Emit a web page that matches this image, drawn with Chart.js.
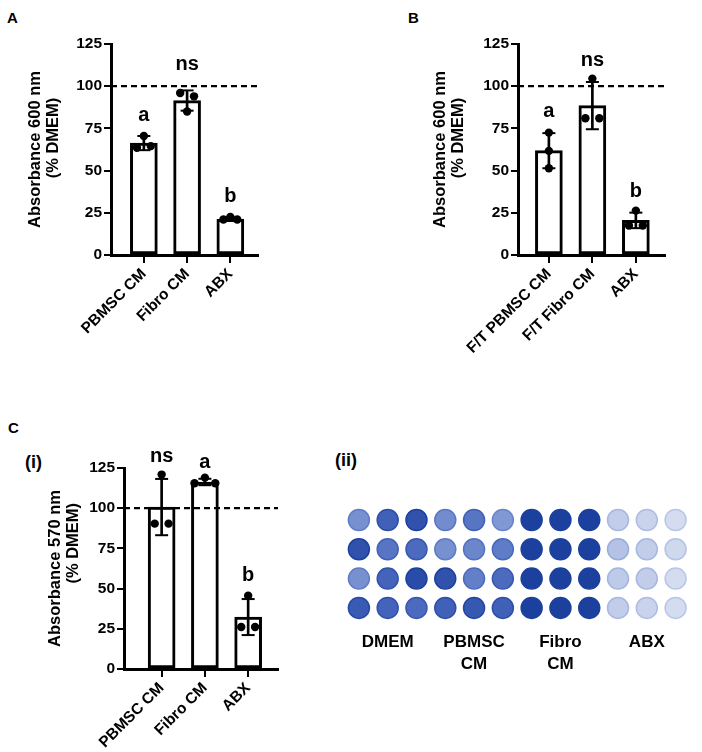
<!DOCTYPE html>
<html>
<head>
<meta charset="utf-8">
<script src="https://cdn.jsdelivr.net/npm/chart.js@4.4.0/dist/chart.umd.min.js"></script>
<style>
body { margin:0; background:#fff; width:702px; height:752px; position:relative; overflow:hidden; font-family:"Liberation Sans", Arial, sans-serif; }
canvas { position:absolute; }
.tag { position:absolute; font-weight:bold; color:#000; line-height:1; }
</style>
</head>
<body>
<div class="tag" style="left:7px;top:10px;font-size:15px">A</div>
<div class="tag" style="left:408px;top:10px;font-size:15px">B</div>
<div class="tag" style="left:8px;top:420px;font-size:15px">C</div>
<div class="tag" style="left:25px;top:453px;font-size:18px">(i)</div>
<div class="tag" style="left:335px;top:451px;font-size:18px">(ii)</div>

<canvas id="chartA" width="300" height="360" style="left:0;top:0"></canvas>
<canvas id="chartB" width="302" height="360" style="left:400px;top:0"></canvas>
<canvas id="chartC" width="300" height="372" style="left:0;top:380px"></canvas>
<canvas id="plate" width="372" height="200" style="left:330px;top:490px"></canvas>

<script>
var FONT = '"Liberation Sans", Arial, sans-serif'

// A - absorbance 600 nm
var catsA = ['PBMSC CM', 'Fibro CM', 'ABX']
var meanA = [66.3, 91.5, 21.2]
var sdA = [4.2, 6, 1]
var dotsA = [[63.5, 70.5, 64.5], [96, 85, 94], [21, 22.5, 21]]
var lettersA = ['a', 'ns', 'b']
var letterYA = [79.4, 109.5, 31.5]

// B - freeze/thaw, absorbance 600 nm
var catsB = ['F/T PBMSC CM', 'F/T Fibro CM', 'ABX']
var meanB = [61.8, 88.5, 20.5]
var sdB = [10.4, 14, 4.6]
var dotsB = [[51.4, 72.5, 61.7], [81, 104.5, 81], [17.5, 26.3, 17.5]]
var lettersB = ['a', 'ns', 'b']
var letterYB = [82, 112, 34.5]

// C(i) - absorbance 570 nm
var catsC = ['PBMSC CM', 'Fibro CM', 'ABX']
var meanC = [100.7, 116.3, 32.3]
var sdC = [17.5, 2, 11.2]
var dotsC = [[90.4, 120.9, 90.4], [115.5, 119, 115.5], [26.1, 45.6, 26.1]]
var lettersC = ['ns', 'a', 'b']
var letterYC = [128.9, 124.8, 55]

// C(ii) - stain intensity per well (0 = clear, 1 = darkest), 4 rows x 12 wells
var wellGroups = [['DMEM'], ['PBMSC', 'CM'], ['Fibro', 'CM'], ['ABX']]
var stain = [
  [0.50, 0.78, 0.88, 0.52, 0.66, 0.45, 1, 1, 1, 0.16, 0.13, 0.08],
  [0.88, 0.66, 0.72, 0.50, 0.56, 0.62, 1, 1, 1, 0.22, 0.16, 0.10],
  [0.50, 0.76, 0.92, 0.88, 0.60, 0.72, 1, 1, 1, 0.18, 0.16, 0.08],
  [0.82, 0.76, 0.72, 0.78, 0.84, 0.78, 1, 1, 1, 0.16, 0.13, 0.08]
]

// horizontal placement of the replicate dots (in bar widths), layout only
var dotSpreadA = [[-1, 0, 1], [-1, 0, 1], [-1, 0, 1]]
var dotSpreadB = [[0, 0, 0], [-1, 0, 1], [-1, 0, 1]]
var dotSpreadC = [[-1, 0, 1], [-1.5, 0, 1.5], [-1, 0, 1]]

var lettersPlugin = {
  id: 'letters',
  afterDatasetsDraw(chart, args, opts) {
    var ctx = chart.ctx, x = chart.scales.x, y = chart.scales.y
    ctx.save()
    ctx.font = 'bold 20px ' + FONT
    ctx.fillStyle = '#000'
    ctx.textAlign = 'center'
    ctx.textBaseline = 'alphabetic'
    opts.text.forEach(function (t, i) {
      ctx.fillText(t, x.getPixelForValue(i), y.getPixelForValue(opts.at[i]))
    })
    ctx.restore()
  }
}

function makePanel(id, cats, mean, sd, dots, spread, letters, letterY, o) {
  var dotData = []
  dots.forEach(function (reps, i) {
    reps.forEach(function (v, k) {
      dotData.push({ x: i + spread[i][k] * 0.16, y: v })
    })
  })
  var capData = []
  mean.forEach(function (m, i) {
    capData.push({ x: i, y: m - sd[i] }, { x: i, y: m + sd[i] })
  })

  new Chart(id, {
    type: 'bar',
    data: {
      datasets: [
        {
          type: 'line',
          data: [{ x: o.xmin, y: 100 }, { x: o.xmax, y: 100 }],
          borderColor: '#000', borderWidth: 2.2, borderDash: [6, 4],
          pointRadius: 0, order: 0
        },
        {
          type: 'scatter',
          data: dotData,
          pointRadius: 4.2, backgroundColor: '#000', borderWidth: 0, order: 1
        },
        {
          type: 'scatter',
          data: capData,
          pointStyle: 'line', pointRadius: 6.5, borderColor: '#000', borderWidth: 2, order: 2
        },
        {
          type: 'bar',
          data: mean.map(function (m, i) { return { x: i, y: [m - sd[i], m + sd[i]] } }),
          backgroundColor: '#000', borderWidth: 0, barThickness: 2, grouped: false, order: 3
        },
        {
          type: 'bar',
          data: mean.map(function (m, i) { return { x: i, y: m } }),
          backgroundColor: '#fff', borderColor: '#000', borderWidth: 3,
          borderSkipped: false, barThickness: 27, grouped: false, order: 4
        }
      ]
    },
    options: {
      responsive: false,
      animation: false,
      events: [],
      layout: { padding: { left: 0, top: o.top, right: o.right, bottom: 0 } },
      plugins: {
        legend: { display: false },
        tooltip: { enabled: false },
        letters: { text: letters, at: letterY }
      },
      scales: {
        x: {
          type: 'linear', min: o.xmin, max: o.xmax, offset: false,
          afterBuildTicks: function (s) { s.ticks = cats.map(function (c, i) { return { value: i } }) },
          afterFit: function (s) { s.height = o.xh },
          ticks: {
            callback: function (v) { return cats[v] },
            autoSkip: false, maxRotation: 45, minRotation: 45, padding: 2,
            color: '#000', font: { family: FONT, size: 15.5, weight: 'bold' }
          },
          grid: { drawOnChartArea: false, drawTicks: true, tickLength: 8, color: '#000', lineWidth: 2, offset: false },
          border: { color: '#000', width: 3 }
        },
        y: {
          min: 0, max: 125,
          afterFit: function (s) { s.width = o.yw },
          ticks: {
            stepSize: 25, padding: 2,
            color: '#000', font: { family: FONT, size: 15.5, weight: 'bold' }
          },
          grid: { drawOnChartArea: false, drawTicks: true, tickLength: 7, color: '#000', lineWidth: 2 },
          border: { color: '#000', width: 3 },
          title: {
            display: true, text: o.title, color: '#000',
            font: { family: FONT, size: 16.5, weight: 'bold', lineHeight: 1.1 },
            padding: { top: o.tpad, bottom: 0 }
          }
        }
      }
    },
    plugins: [lettersPlugin]
  })
}

makePanel('chartA', catsA, meanA, sdA, dotsA, dotSpreadA, lettersA, letterYA,
  { xmin: -0.76, xmax: 2.64, top: 44, right: 42, yw: 111, xh: 105, tpad: 26,
    title: ['Absorbance 600 nm', '     (% DMEM)'] })

makePanel('chartB', catsB, meanB, sdB, dotsB, dotSpreadB, lettersB, letterYB,
  { xmin: -0.71, xmax: 2.67, top: 44, right: 37, yw: 118, xh: 105, tpad: 31,
    title: ['Absorbance 600 nm', '     (% DMEM)'] })

makePanel('chartC', catsC, meanC, sdC, dotsC, dotSpreadC, lettersC, letterYC,
  { xmin: -0.87, xmax: 2.69, top: 88, right: 22, yw: 124, xh: 83, tpad: 46,
    title: ['Absorbance 570 nm', '           (% DMEM)'] })

// well plate photo, drawn as a grid of stained wells
var stops = [
  [0, [230, 235, 246]],
  [0.45, [128, 152, 212]],
  [0.75, [70, 102, 188]],
  [1, [28, 64, 158]]
]
function shade(v) {
  v = Math.min(1, Math.max(0, v))
  for (var i = 1; i < stops.length; i++) {
    if (v <= stops[i][0]) {
      var a = stops[i - 1], b = stops[i], t = (v - a[0]) / (b[0] - a[0])
      var c = a[1].map(function (l, k) { return Math.round(l + (b[1][k] - l) * t) })
      return 'rgb(' + c.join(',') + ')'
    }
  }
}

var wellData = []
stain.forEach(function (row, r) {
  row.forEach(function (v, c) { wellData.push({ x: c + 1, y: r + 1, v: v }) })
})

var groupLabels = {
  id: 'groupLabels',
  afterDatasetsDraw(chart) {
    var ctx = chart.ctx, x = chart.scales.x, base = chart.chartArea.bottom
    ctx.save()
    ctx.font = 'bold 17px ' + FONT
    ctx.fillStyle = '#000'
    ctx.textAlign = 'center'
    ctx.textBaseline = 'middle'
    wellGroups.forEach(function (lines, g) {
      lines.forEach(function (t, k) {
        ctx.fillText(t, x.getPixelForValue(g * 3 + 2), base + 19.5 + k * 22)
      })
    })
    ctx.restore()
  }
}

new Chart('plate', {
  type: 'scatter',
  data: {
    datasets: [{
      data: wellData,
      pointRadius: 10.5,
      backgroundColor: function (ctx) { return shade(ctx.raw ? ctx.raw.v : 0) },
      borderColor: function (ctx) { return shade(ctx.raw ? ctx.raw.v + 0.12 : 0) },
      borderWidth: 1.5
    }]
  },
  options: {
    responsive: false,
    animation: false,
    events: [],
    layout: { padding: { left: 14.5, right: 9.5, top: 15.35, bottom: 67.45 } },
    plugins: { legend: { display: false }, tooltip: { enabled: false } },
    scales: {
      x: { type: 'linear', min: 0.5, max: 12.5, display: false },
      y: { type: 'linear', min: 0.5, max: 4.5, reverse: true, display: false }
    }
  },
  plugins: [groupLabels]
})
</script>
</body>
</html>
